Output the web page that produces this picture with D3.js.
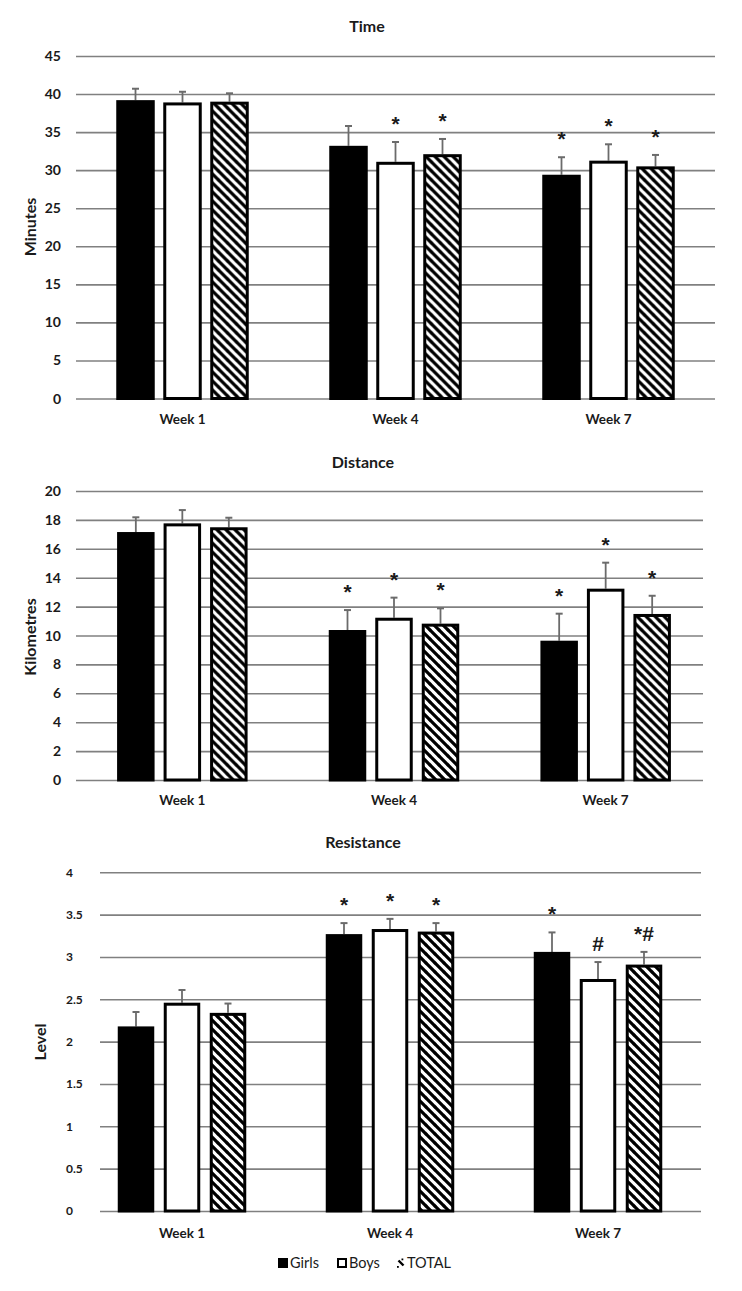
<!DOCTYPE html>
<html>
<head>
<meta charset="utf-8">
<script src="https://cdn.jsdelivr.net/npm/d3@7"></script>
<style>
  html, body { margin: 0; padding: 0; background: #fff; }
  svg { display: block; }
  text { font-family: Lato, "Open Sans", sans-serif; fill: #1a1a1a; }
</style>
</head>
<body>
<svg id="chart" width="742" height="1291"></svg>
<script>
// ---------- data ----------
const weeks = ["Week 1", "Week 4", "Week 7"];
const series = ["Girls", "Boys", "TOTAL"];

// Time (minutes)
const timeGirls = [39.2, 33.2, 29.4];
const timeBoys  = [38.9, 31.1, 31.25];
const timeTotal = [39.0, 32.1, 30.5];
const timeErrGirls = [1.5, 2.6, 2.3];
const timeErrBoys  = [1.4, 2.6, 2.15];
const timeErrTotal = [1.1, 2.0, 1.5];
const timeSigGirls = ["", "", "*"];
const timeSigBoys  = ["", "*", "*"];
const timeSigTotal = ["", "*", "*"];
const timeTicks = [0, 5, 10, 15, 20, 25, 30, 35, 40, 45];

// Distance (km)
const distGirls = [17.16, 10.38, 9.64];
const distBoys  = [17.76, 11.23, 13.24];
const distTotal = [17.49, 10.82, 11.49];
const distErrGirls = [1.02, 1.38, 1.87];
const distErrBoys  = [0.92, 1.39, 1.80];
const distErrTotal = [0.66, 1.06, 1.26];
const distSigGirls = ["", "*", "*"];
const distSigBoys  = ["", "*", "*"];
const distSigTotal = ["", "*", "*"];
const distTicks = [0, 2, 4, 6, 8, 10, 12, 14, 16, 18, 20];

// Resistance (level)
const resGirls = [2.18, 3.27, 3.06];
const resBoys  = [2.46, 3.33, 2.74];
const resTotal = [2.34, 3.30, 2.91];
const resErrGirls = [0.17, 0.13, 0.23];
const resErrBoys  = [0.15, 0.12, 0.20];
const resErrTotal = [0.11, 0.10, 0.15];
const resSigGirls = ["", "*", "*"];
const resSigBoys  = ["", "*", "#"];
const resSigTotal = ["", "*", "*#"];
const resTicks = [0, 0.5, 1, 1.5, 2, 2.5, 3, 3.5, 4];

// ---------- build panels ----------
function rows(vals, errs, sigs) {
  return weeks.map((w, i) => series.map((s, j) => ({
    week: w, series: s, value: vals[j][i], err: errs[j][i], sig: sigs[j][i]
  })));
}

const panels = [
  {
    title: "Time", yLabel: "Minutes", ticks: timeTicks, max: 45,
    data: rows([timeGirls, timeBoys, timeTotal], [timeErrGirls, timeErrBoys, timeErrTotal], [timeSigGirls, timeSigBoys, timeSigTotal]),
    layout: { top: 56, bottom: 398.5, bandL: 76, bandR: 715, gridL: 76, gridR: 715, barStep: 47, barW: 38.5,
              titleX: 367, titleY: 32, tickX: 61, tickAnchor: "end", tickSize: 14, yLabX: 36, yLabY: 227, weekY: 424 }
  },
  {
    title: "Distance", yLabel: "Kilometres", ticks: distTicks, max: 20,
    data: rows([distGirls, distBoys, distTotal], [distErrGirls, distErrBoys, distErrTotal], [distSigGirls, distSigBoys, distSigTotal]),
    layout: { top: 491, bottom: 780, bandL: 76.5, bandR: 711.5, gridL: 76, gridR: 703, barStep: 46.5, barW: 37.5,
              titleX: 363, titleY: 468, tickX: 61, tickAnchor: "end", tickSize: 14, yLabX: 36, yLabY: 637, weekY: 805 }
  },
  {
    title: "Resistance", yLabel: "Level", ticks: resTicks, max: 4,
    data: rows([resGirls, resBoys, resTotal], [resErrGirls, resErrBoys, resErrTotal], [resSigGirls, resSigBoys, resSigTotal]),
    layout: { top: 872.3, bottom: 1211, bandL: 78, bandR: 702, gridL: 100, gridR: 701, barStep: 46, barW: 36.5,
              titleX: 363, titleY: 848, tickX: 66, tickAnchor: "start", tickSize: 12, yLabX: 46, yLabY: 1042, weekY: 1238 }
  }
];

const svg = d3.select("#chart");

// hatch pattern
const defs = svg.append("defs");
const pat = defs.append("pattern")
  .attr("id", "hatch").attr("patternUnits", "userSpaceOnUse")
  .attr("width", 9).attr("height", 9);
pat.append("rect").attr("width", 9).attr("height", 9).attr("fill", "#fff");
pat.append("path")
  .attr("d", "M-1,-1 L10,10 M-5.5,3.5 L1,10 M3.5,-5.5 L10,1 M-1,8 L1,10 M8,-1 L10,1")
  .attr("stroke", "#000").attr("stroke-width", 3.2).attr("fill", "none");

const fillFor = { Girls: "#000", Boys: "#fff", TOTAL: "url(#hatch)" };

panels.forEach(p => {
  const L = p.layout;
  const g = svg.append("g");
  const y = d3.scaleLinear().domain([0, p.max]).range([L.bottom, L.top]);
  const x0 = d3.scaleBand().domain(weeks).range([L.bandL, L.bandR]).padding(0);
  const half = L.barStep * 1.5;
  const pin = (L.barStep - L.barW) / L.barStep;
  const x1 = d3.scaleBand().domain(series).range([-half, half]).paddingInner(pin).paddingOuter(pin / 2);

  // gridlines via axis
  const grid = d3.axisLeft(y).tickValues(p.ticks).tickSize(-(L.gridR - L.gridL)).tickFormat("");
  const gg = g.append("g").attr("transform", `translate(${L.gridL},0)`).call(grid);
  gg.select(".domain").remove();
  gg.selectAll(".tick line").attr("stroke", "#808080").attr("stroke-width", 1.6);

  // tick labels
  g.selectAll(".ylab").data(p.ticks).enter().append("text")
    .attr("x", L.tickX).attr("y", d => y(d))
    .attr("dy", "0.36em")
    .attr("text-anchor", L.tickAnchor)
    .attr("font-size", L.tickSize).attr("font-weight", 700)
    .text(d => d);

  // title
  g.append("text").attr("x", L.titleX).attr("y", L.titleY)
    .attr("text-anchor", "middle").attr("font-size", 16).attr("font-weight", 700)
    .text(p.title);

  // y axis label
  g.append("text")
    .attr("transform", `translate(${L.yLabX},${L.yLabY}) rotate(-90)`)
    .attr("text-anchor", "middle").attr("font-size", 16).attr("font-weight", 700)
    .text(p.yLabel);

  // x labels
  g.selectAll(".wk").data(weeks).enter().append("text")
    .attr("x", d => x0(d) + x0.bandwidth() / 2).attr("y", L.weekY)
    .attr("text-anchor", "middle").attr("font-size", 13.5).attr("font-weight", 700)
    .text(d => d);

  const groups = g.selectAll(".grp").data(p.data).enter().append("g")
    .attr("transform", d => `translate(${x0(d[0].week) + x0.bandwidth() / 2},0)`);

  // error bars
  const eb = groups.selectAll(".eb").data(d => d).enter().append("g");
  eb.append("line")
    .attr("x1", d => x1(d.series) + x1.bandwidth() / 2)
    .attr("x2", d => x1(d.series) + x1.bandwidth() / 2)
    .attr("y1", d => y(d.value)).attr("y2", d => y(d.value + d.err))
    .attr("stroke", "#6b6b6b").attr("stroke-width", 1.8);
  eb.append("line")
    .attr("x1", d => x1(d.series) + x1.bandwidth() / 2 - 3.5)
    .attr("x2", d => x1(d.series) + x1.bandwidth() / 2 + 3.5)
    .attr("y1", d => y(d.value + d.err)).attr("y2", d => y(d.value + d.err))
    .attr("stroke", "#6b6b6b").attr("stroke-width", 2);

  // bars
  groups.selectAll(".bar").data(d => d).enter().append("rect")
    .attr("x", d => x1(d.series) + 1.5)
    .attr("width", x1.bandwidth() - 3)
    .attr("y", d => y(d.value) + 1.5)
    .attr("height", d => y(0) - y(d.value) - 1.5)
    .attr("fill", d => fillFor[d.series])
    .attr("stroke", "#000").attr("stroke-width", 3);

  // significance markers
  groups.selectAll(".sig").data(d => d.filter(r => r.sig)).enter().append("text")
    .attr("x", d => x1(d.series) + x1.bandwidth() / 2)
    .attr("y", d => y(d.value + d.err) - 11)
    .attr("text-anchor", "middle").attr("font-size", 21).attr("font-weight", 700)
    .style("font-family", "'Liberation Sans', Arial, sans-serif")
    .text(d => d.sig);
});

// legend
const legend = svg.append("g").attr("transform", "translate(278,1263)");
const legX = d3.scaleOrdinal().domain(series).range([0, 59, 119]);
series.forEach(s => {
  const lg = legend.append("g").attr("transform", `translate(${legX(s)},0)`);
  if (s === "Girls") {
    lg.append("rect").attr("x", 0).attr("y", -5).attr("width", 10).attr("height", 10).attr("fill", "#000");
  } else if (s === "Boys") {
    lg.append("rect").attr("x", 1).attr("y", -4).attr("width", 8).attr("height", 8)
      .attr("fill", "#fff").attr("stroke", "#000").attr("stroke-width", 2);
  } else {
    lg.append("path").attr("d", "M1.5,-2.5 L6.5,2.5").attr("stroke", "#000").attr("stroke-width", 2.4);
    lg.append("rect").attr("x", 0).attr("y", 3).attr("width", 1.8).attr("height", 1.8).attr("fill", "#000");
    lg.append("rect").attr("x", 4.5).attr("y", -4.5).attr("width", 1.8).attr("height", 1.8).attr("fill", "#000");
  }
  lg.append("text").attr("x", s === "TOTAL" ? 10 : 12).attr("y", 0).attr("dy", "0.36em")
    .attr("font-size", 14.5).text(s);
});
</script>
</body>
</html>
